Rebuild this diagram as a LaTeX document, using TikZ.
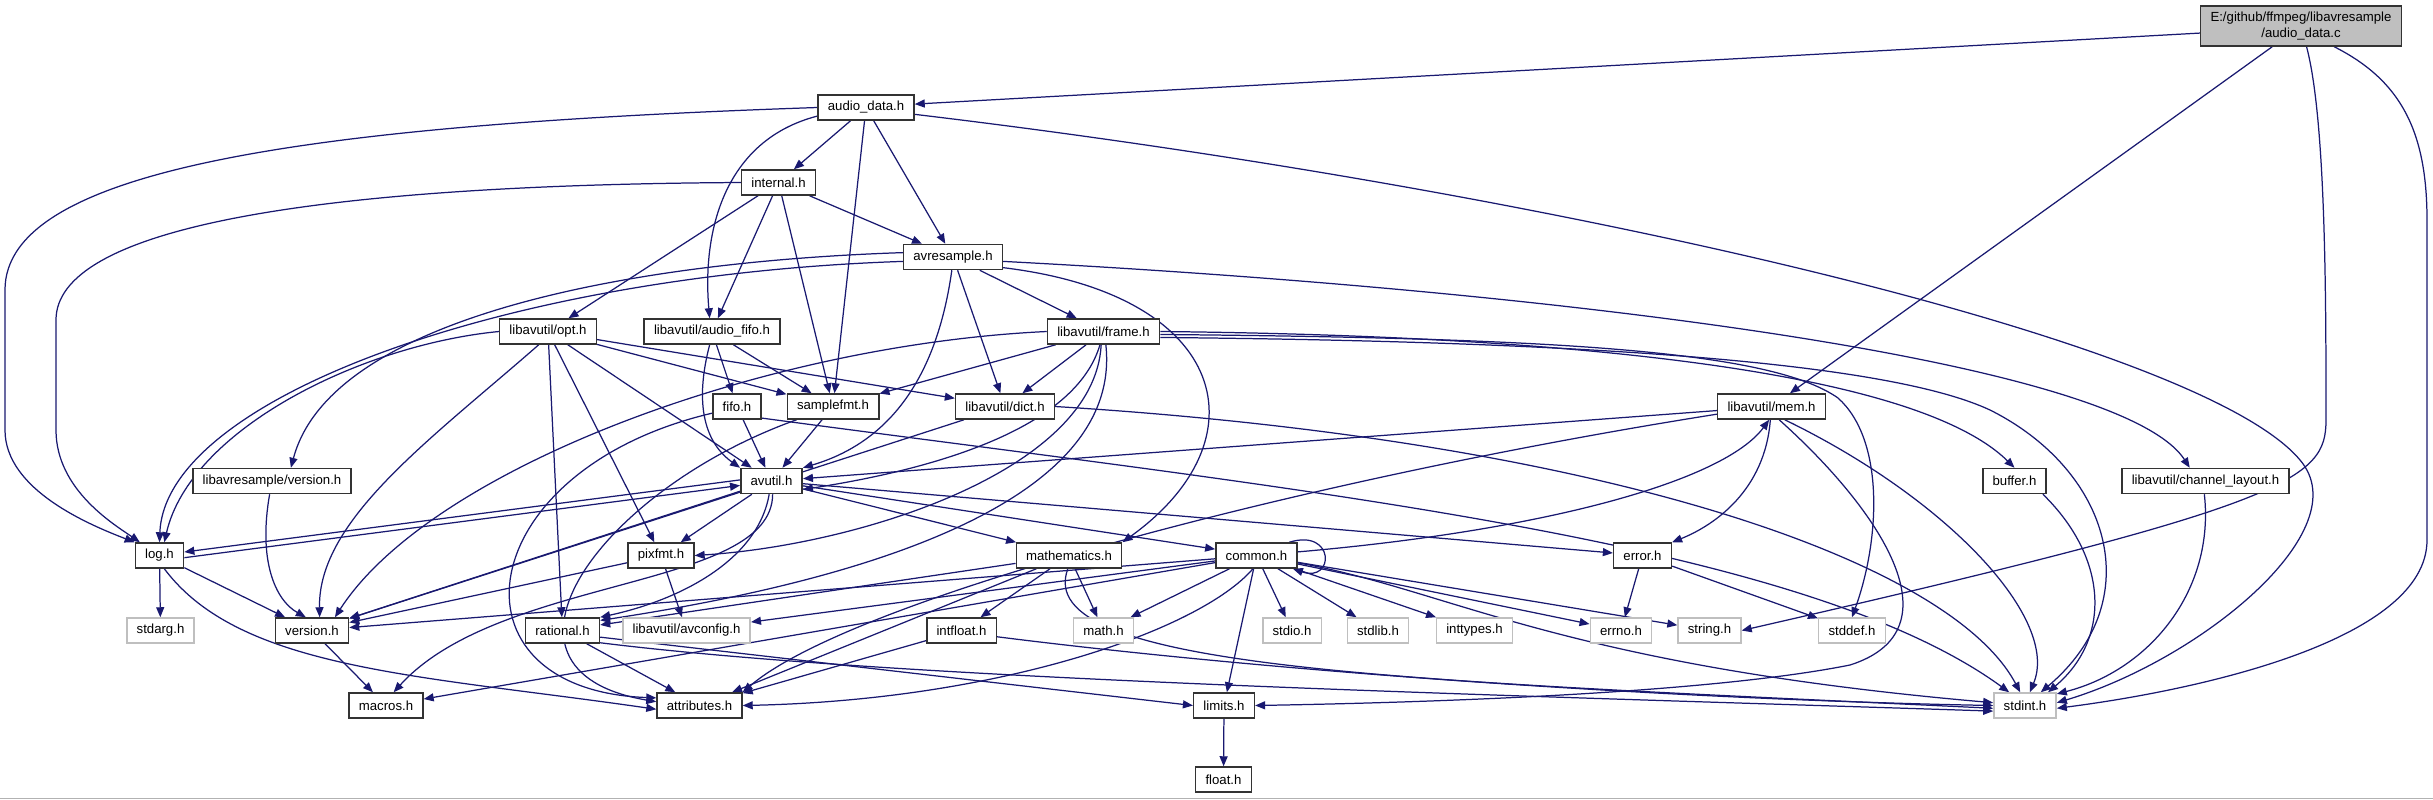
\documentclass[tikz,border=0pt]{standalone}
\usepackage{fontspec}
\setmainfont{Liberation Sans}
\usepackage{tikz}
\usetikzlibrary{arrows.meta,backgrounds}
\definecolor{midblue}{RGB}{25,25,112}
\tikzset{
  hdr/.style    ={draw=black!80, fill=white, line width=0.75pt,
                  inner xsep=4.9pt, inner ysep=0pt, minimum height=12.5pt,
                  font=\fontsize{6.6}{7.9}\selectfont},
  syshdr/.style ={hdr, draw=black!25},
  srcbox/.style ={hdr, fill=black!25, align=center, minimum height=20pt},
  dep/.style    ={-{Triangle[length=5pt,width=4pt]}, draw=midblue,
                  line width=0.62pt},
}
\begin{document}
\begin{tikzpicture}[x=0.5pt,y=-0.5pt]
  \useasboundingbox (0,0) rectangle (2433,799);
  \node[srcbox] (root) at (2301,26) {E:/github/ffmpeg/libavresample\\/audio\_data.c};
  \node[hdr] (adh) at (866,107.5) {audio\_data.h};
  \node[hdr] (internal) at (778.5,182.5) {internal.h};
  \node[hdr] (avres) at (953,257) {avresample.h};
  \node[hdr] (opt) at (548,331.5) {libavutil/opt.h};
  \node[hdr] (afifo) at (712,331.5) {libavutil/audio\_fifo.h};
  \node[hdr] (frame) at (1103.5,331.5) {libavutil/frame.h};
  \node[hdr] (fifo) at (737,406.5) {fifo.h};
  \node[hdr] (samplefmt) at (833,406.5) {samplefmt.h};
  \node[hdr] (dict) at (1005,406.5) {libavutil/dict.h};
  \node[hdr] (mem) at (1771.5,406.5) {libavutil/mem.h};
  \node[hdr] (lrver) at (272,481) {libavresample/version.h};
  \node[hdr] (avutil) at (771.5,481) {avutil.h};
  \node[hdr] (buffer) at (2014.5,481) {buffer.h};
  \node[hdr] (chlayout) at (2205.5,481) {libavutil/channel\_layout.h};
  \node[hdr] (log) at (159.5,555.5) {log.h};
  \node[hdr] (pixfmt) at (661,555.5) {pixfmt.h};
  \node[hdr] (mathematics) at (1069,555.5) {mathematics.h};
  \node[hdr] (common) at (1256.5,555.5) {common.h};
  \node[hdr] (error) at (1642.5,555.5) {error.h};
  \node[syshdr] (stdarg) at (160.5,630.5) {stdarg.h};
  \node[hdr] (version) at (312,630.5) {version.h};
  \node[hdr] (rational) at (562.5,630.5) {rational.h};
  \node[syshdr] (avconfig) at (686.5,630.5) {libavutil/avconfig.h};
  \node[hdr] (intfloat) at (961.5,630.5) {intfloat.h};
  \node[syshdr] (math) at (1103.5,630.5) {math.h};
  \node[syshdr] (stdio) at (1292,630.5) {stdio.h};
  \node[syshdr] (stdlib) at (1378,630.5) {stdlib.h};
  \node[syshdr] (inttypes) at (1474.5,630.5) {inttypes.h};
  \node[syshdr] (errno) at (1621,630.5) {errno.h};
  \node[syshdr] (string) at (1709.5,630.5) {string.h};
  \node[syshdr] (stddef) at (1852,630.5) {stddef.h};
  \node[hdr] (macros) at (386,705.5) {macros.h};
  \node[hdr] (attributes) at (699.5,705.5) {attributes.h};
  \node[hdr] (limits) at (1224,705.5) {limits.h};
  \node[syshdr] (stdint) at (2025,705.5) {stdint.h};
  \node[hdr] (float) at (1223.5,779.5) {float.h};
  \draw[black!30, line width=0.5pt] (0,798) -- (2433,798);

  \begin{scope}[on background layer]
  % audio_data.c
  \draw[dep] (root.-176) -- (adh.4);
  \draw[dep] (root) -- (mem);
  \draw[dep] (root.-75) .. controls (2326,120) and (2326,300) .. (2326,420)
    .. controls (2326,480) and (2290,505) .. (string.east);
  \draw[dep] (root.-32) .. controls (2400,80) and (2427,130) .. (2427,220)
    -- (2427,540) .. controls (2427,640) and (2200,690) .. (stdint.-5);
  % audio_data.h
  \draw[dep] (adh.west) .. controls (300,125) and (5,170) .. (5,290)
    -- (5,430) .. controls (5,490) and (90,525) .. (log.north west);
  \draw[dep] (adh.-170) .. controls (725,140) and (702,230) .. (afifo.100);
  \draw[dep] (adh) -- (internal);
  \draw[dep] (adh) -- (samplefmt);
  \draw[dep] (adh) -- (avres);
  \draw[dep] (adh.-8) .. controls (1550,190) and (2200,340) .. (2300,460)
    .. controls (2360,530) and (2200,660) .. (stdint.5);
  % internal.h
  \draw[dep] (internal.west) .. controls (300,185) and (56,230) .. (56,320)
    -- (56,430) .. controls (56,490) and (115,525) .. (log.146);
  \draw[dep] (internal) -- (opt);
  \draw[dep] (internal) -- (afifo);
  \draw[dep] (internal) -- (samplefmt);
  \draw[dep] (internal) -- (avres);
  % avresample.h
  \draw[dep] (avres.175) .. controls (620,262) and (330,320) .. (lrver.35);
  \draw[dep] (avres.185) .. controls (500,275) and (165,400) .. (log.north);
  \draw[dep] (avres.-5) .. controls (1550,290) and (2120,360) .. (chlayout.140);
  \draw[dep] (avres.-12) .. controls (1230,295) and (1265,440) .. (mathematics.north east);
  \draw[dep] (avres.-95) .. controls (935,390) and (880,445) .. (avutil.north east);
  \draw[dep] (avres) -- (dict);
  \draw[dep] (avres) -- (frame);
  % libavutil/opt.h
  \draw[dep] (opt.west) .. controls (360,345) and (190,430) .. (log.70);
  \draw[dep] (opt.235) .. controls (430,440) and (318,520) .. (version.60);
  \draw[dep] (opt) -- (rational);
  \draw[dep] (opt) -- (pixfmt);
  \draw[dep] (opt) -- (avutil);
  \draw[dep] (opt) -- (samplefmt);
  \draw[dep] (opt) -- (dict);
  % libavutil/audio_fifo.h
  \draw[dep] (afifo.-100) .. controls (690,420) and (715,450) .. (avutil.north west);
  \draw[dep] (afifo) -- (fifo);
  \draw[dep] (afifo) -- (samplefmt);
  % fifo.h, samplefmt.h
  \draw[dep] (fifo) -- (avutil);
  \draw[dep] (fifo.-165) .. controls (470,470) and (440,690) .. (attributes.170);
  \draw[dep] (fifo.-25) .. controls (1300,490) and (1800,540) .. (stdint.140);
  \draw[dep] (samplefmt) -- (avutil);
  \draw[dep] (samplefmt.-160) .. controls (600,490) and (470,670) .. (attributes.175);
  % libavutil/frame.h
  \draw[dep] (frame.west) .. controls (760,345) and (430,470) .. (version.30);
  \draw[dep] (frame) -- (samplefmt);
  \draw[dep] (frame) -- (dict);
  \draw[dep] (frame.-105) .. controls (1075,430) and (930,470) .. (avutil.-15);
  \draw[dep] (frame.-100) .. controls (1095,470) and (860,545) .. (pixfmt.east);
  \draw[dep] (frame.-80) .. controls (1125,520) and (800,590) .. (rational.15);
  \draw[dep] (frame.east) .. controls (1600,336) and (1920,375) .. (buffer.north);
  \draw[dep] (frame.-3) .. controls (1550,338) and (1770,350) .. (1838,398)
    .. controls (1885,440) and (1880,540) .. (stddef.north);
  \draw[dep] (frame.-6) .. controls (1650,342) and (1900,368) .. (1990,410)
    .. controls (2110,470) and (2150,600) .. (stdint.40);
  % libavutil/mem.h
  \draw[dep] (mem) -- (avutil);
  \draw[dep] (mem.-95) .. controls (1765,490) and (1715,525) .. (error.north east);
  \draw[dep] (mem.-60) .. controls (1880,510) and (1960,630) .. (1850,665)
    .. controls (1700,695) and (1400,703) .. (limits.east);
  \draw[dep] (mem.-45) .. controls (1950,500) and (2060,620) .. (stdint.70);
  \draw[dep] (mem.-172) .. controls (1300,480) and (850,600) .. (attributes.north east);
  % common.h
  \draw[dep] (common.5) .. controls (1550,530) and (1725,480) .. (mem.-100);
  \draw[dep] (common.22) .. controls (1335,528) and (1335,583) .. (common.-20);
  \draw[dep] (common) -- (math);
  \draw[dep] (common) -- (stdio);
  \draw[dep] (common) -- (stdlib);
  \draw[dep] (common) -- (inttypes);
  \draw[dep] (common) -- (errno);
  \draw[dep] (common) -- (string);
  \draw[dep] (common) -- (limits);
  \draw[dep] (common.-10) .. controls (1450,590) and (1560,665) .. (stdint.175);
  \draw[dep] (common) -- (version);
  \draw[dep] (common) -- (avconfig);
  \draw[dep] (common) -- (macros);
  \draw[dep] (common.-105) .. controls (1200,630) and (1000,700) .. (attributes.east);
  % mathematics.h, rational.h, intfloat.h, error.h
  \draw[dep] (mathematics) -- (intfloat);
  \draw[dep] (mathematics) -- (math);
  \draw[dep] (mathematics) -- (rational);
  \draw[dep] (mathematics) -- (attributes);
  \draw[dep] (mathematics.-95) .. controls (1030,670) and (1400,680) .. (stdint.-175);
  \draw[dep] (rational) -- (attributes);
  \draw[dep] (rational.-10) -- (limits.west);
  \draw[dep] (rational.-18) .. controls (900,680) and (1500,695) .. (stdint.-170);
  \draw[dep] (intfloat) -- (attributes);
  \draw[dep] (intfloat.-10) .. controls (1300,675) and (1700,700) .. (stdint.180);
  \draw[dep] (error) -- (errno);
  \draw[dep] (error) -- (stddef);
  % log.h, avutil.h
  \draw[dep] (log) -- (stdarg);
  \draw[dep] (log) -- (version);
  \draw[dep] (log.-70) .. controls (240,670) and (420,675) .. (attributes.-175);
  \draw[dep] (log.-5) -- (avutil.-172);
  \draw[dep] (avutil.178) -- (log.8);
  \draw[dep] (avutil) -- (common);
  \draw[dep] (avutil) -- (error);
  \draw[dep] (avutil) -- (mathematics);
  \draw[dep] (avutil) -- (pixfmt);
  \draw[dep] (avutil) -- (version);
  \draw[dep] (avutil.-100) .. controls (758,560) and (680,600) .. (rational.north east);
  \draw[dep] (avutil.-85) .. controls (772,590) and (500,575) .. (macros.60);
  % the rest
  \draw[dep] (pixfmt) -- (version);
  \draw[dep] (pixfmt) -- (avconfig);
  \draw[dep] (version) -- (macros);
  \draw[dep] (lrver) .. controls (258,560) and (275,600) .. (version.115);
  \draw[dep] (dict) -- (version);
  \draw[dep] (dict.east) .. controls (1600,440) and (1950,560) .. (stdint.110);
  \draw[dep] (buffer.-25) .. controls (2110,560) and (2110,640) .. (stdint.30);
  \draw[dep] (chlayout.-95) .. controls (2215,590) and (2150,670) .. (stdint.20);
  \draw[dep] (limits) -- (float);
  \end{scope}
\end{tikzpicture}
\end{document}
